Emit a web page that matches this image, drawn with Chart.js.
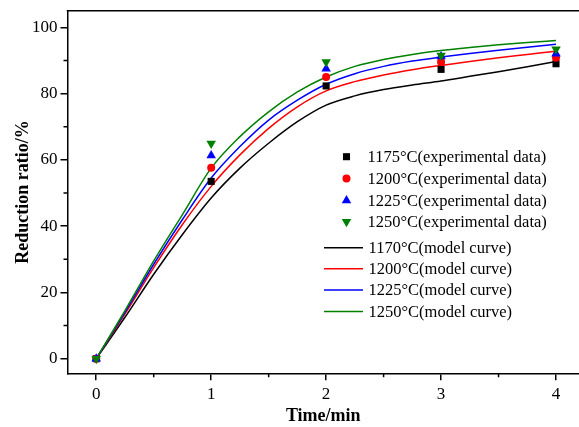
<!DOCTYPE html>
<html><head><meta charset="utf-8">
<script src="https://cdn.jsdelivr.net/npm/chart.js@4/dist/chart.umd.min.js"></script>
<style>html,body{margin:0;padding:0;background:#fff}#wrap{width:579px;height:427px}</style>
</head><body><div id="wrap"><canvas id="c" width="579" height="427"></canvas></div>
<script>
// ---- data ----
const timeExp = [0, 1, 2, 3, 4];
const exp1175 = [0, 53.5, 82.3, 87.3, 89.0];
const exp1200 = [0, 57.6, 85.0, 89.5, 90.8];
const exp1225 = [0, 61.3, 87.5, 91.2, 92.0];
const exp1250 = [0, 64.9, 89.5, 91.5, 93.4];

const timeModel = [0, 0.25, 0.5, 0.75, 1, 1.25, 1.5, 1.75, 2, 2.25, 2.5, 2.75, 3, 3.25, 3.5, 3.75, 4];
const model1170 = [0, 12.5, 25.5, 37.5, 48.5, 57.5, 65.0, 71.5, 76.5, 79.3, 81.2, 82.6, 83.8, 85.2, 86.6, 88.1, 89.7];
const model1200 = [0, 13.5, 27.5, 40.5, 52.0, 61.5, 69.5, 76.0, 80.8, 83.6, 85.6, 87.2, 88.5, 89.7, 90.8, 91.8, 92.8];
const model1225 = [0, 14.0, 28.5, 42.0, 54.5, 64.0, 72.0, 78.0, 82.8, 86.0, 88.2, 89.8, 91.0, 92.1, 93.1, 94.0, 94.9];
const model1250 = [0, 14.5, 29.5, 43.5, 57.5, 67.0, 74.5, 80.5, 85.0, 88.2, 90.3, 91.8, 93.0, 93.9, 94.7, 95.4, 96.0];

const xTicks = [0, 1, 2, 3, 4];
const xMinorTicks = [0.5, 1.5, 2.5, 3.5];
const yTicks = [0, 20, 40, 60, 80, 100];
const yMinorTicks = [10, 30, 50, 70, 90];

const expLabels = ['1175°C(experimental data)', '1200°C(experimental data)', '1225°C(experimental data)', '1250°C(experimental data)'];
const modelLabels = ['1170°C(model curve)', '1200°C(model curve)', '1225°C(model curve)', '1250°C(model curve)'];

// ---- build ----
const pts = (xs, ys) => xs.map((x, i) => ({x: x, y: ys[i]}));
const colors = ['#000000', '#ff0000', '#0000ff', '#008000'];
const expSeries = [exp1175, exp1200, exp1225, exp1250];
const modelSeries = [model1170, model1200, model1225, model1250];
const styles = [
  {pointStyle: 'rect', radius: 5, rotation: 0},
  {pointStyle: 'circle', radius: 4, rotation: 0},
  {pointStyle: 'triangle', radius: 5.5, rotation: 0},
  {pointStyle: 'triangle', radius: 5.5, rotation: 180}
];

const datasets = [];
expSeries.forEach((s, i) => {
  datasets.push({
    label: expLabels[i], kind: 'exp', data: pts(timeExp, s),
    showLine: false, pointStyle: styles[i].pointStyle, pointRadius: styles[i].radius,
    pointRotation: styles[i].rotation,
    backgroundColor: colors[i], borderColor: colors[i], pointBorderWidth: 0,
    order: 4 - i, clip: false
  });
});
modelSeries.forEach((s, i) => {
  datasets.push({
    label: modelLabels[i], kind: 'model', data: pts(timeModel, s),
    showLine: true, pointRadius: 0, borderColor: colors[i], backgroundColor: colors[i],
    borderWidth: 1.5, cubicInterpolationMode: 'monotone', order: 10 + (4 - i), clip: false
  });
});

const FONT = 'Liberation Serif, Times New Roman, serif';

function drawMarker(ctx, st, x, y, color) {
  ctx.save();
  ctx.fillStyle = color; ctx.strokeStyle = color; ctx.lineWidth = 0;
  if (Chart.helpers && Chart.helpers.drawPoint) {
    Chart.helpers.drawPoint(ctx, {pointStyle: st.pointStyle, rotation: st.rotation, radius: st.radius, borderWidth: 0}, x, y);
  }
  ctx.restore();
}

const extras = {
  id: 'extras',
  afterDraw(chart) {
    const {ctx, chartArea: a, scales: {x, y}} = chart;
    ctx.save();
    ctx.strokeStyle = '#000'; ctx.lineWidth = 1.5;
    ctx.beginPath();
    ctx.moveTo(a.left - 0.75, a.top); ctx.lineTo(chart.width, a.top);
    xMinorTicks.forEach(v => { const p = x.getPixelForValue(v); ctx.moveTo(p, a.bottom); ctx.lineTo(p, a.bottom + 4); });
    yMinorTicks.forEach(v => { const p = y.getPixelForValue(v); ctx.moveTo(a.left, p); ctx.lineTo(a.left - 4, p); });
    ctx.stroke();

    // legend
    ctx.font = '16.5px ' + FONT;
    ctx.fillStyle = '#000';
    ctx.textBaseline = 'middle';
    ctx.textAlign = 'left';
    const expRows = [156.7, 178.5, 200.5, 221.7];
    const modelRows = [247.7, 268.8, 290, 311.5];
    let ei = 0, mi = 0;
    chart.data.datasets.forEach((ds) => {
      if (ds.kind === 'exp') {
        const ry = expRows[ei];
        drawMarker(ctx, {pointStyle: ds.pointStyle, rotation: ds.pointRotation, radius: ds.pointRadius}, 346.5, ry, ds.backgroundColor);
        ctx.fillStyle = '#000';
        ctx.fillText(ds.label, 367.5, ry + 1);
        ei++;
      } else {
        const ry = modelRows[mi];
        ctx.strokeStyle = ds.borderColor; ctx.lineWidth = 1.5;
        ctx.beginPath(); ctx.moveTo(324, ry); ctx.lineTo(363, ry); ctx.stroke();
        ctx.fillStyle = '#000';
        ctx.fillText(ds.label, 368.5, ry + 1);
        mi++;
      }
    });
    ctx.restore();
  }
};

new Chart(document.getElementById('c'), {
  type: 'scatter',
  data: {datasets: datasets},
  plugins: [extras],
  options: {
    responsive: false, animation: false, devicePixelRatio: 1,
    layout: {autoPadding: false, padding: {top: 10.7, right: 0, left: 0, bottom: 0}},
    plugins: {legend: {display: false}, tooltip: {enabled: false}},
    scales: {
      x: {
        type: 'linear', min: -0.25, max: 4.2,
        afterBuildTicks: s => { s.ticks = xTicks.map(v => ({value: v})); },
        afterFit: s => { s.height = 53.7; s.paddingLeft = 0; s.paddingRight = 0; },
        grid: {display: true, drawOnChartArea: false, drawTicks: true, tickLength: 7, color: '#000', lineWidth: 1.5},
        border: {display: true, color: '#000', width: 1.5},
        ticks: {font: {family: FONT, size: 17}, color: '#000', padding: 4, maxRotation: 0, autoSkip: false,
                callback: v => String(v)},
        title: {display: true, text: 'Time/min', color: '#000', font: {family: FONT, size: 18, weight: 'bold'}, padding: {top: 0, bottom: 0}}
      },
      y: {
        type: 'linear', min: -4.4, max: 105,
        afterBuildTicks: s => { s.ticks = yTicks.map(v => ({value: v})); },
        afterFit: s => { s.width = 67.5; s.paddingTop = 0; s.paddingBottom = 0; },
        grid: {display: true, drawOnChartArea: false, drawTicks: true, tickLength: 7, color: '#000', lineWidth: 1.5},
        border: {display: true, color: '#000', width: 1.5},
        ticks: {font: {family: FONT, size: 17}, color: '#000', padding: 3, autoSkip: false,
                callback: v => String(v)},
        title: {display: true, text: 'Reduction ratio/%', color: '#000', font: {family: FONT, size: 18, weight: 'bold'}, padding: {top: 13, bottom: 0}}
      }
    }
  }
});
</script>
</body></html>
